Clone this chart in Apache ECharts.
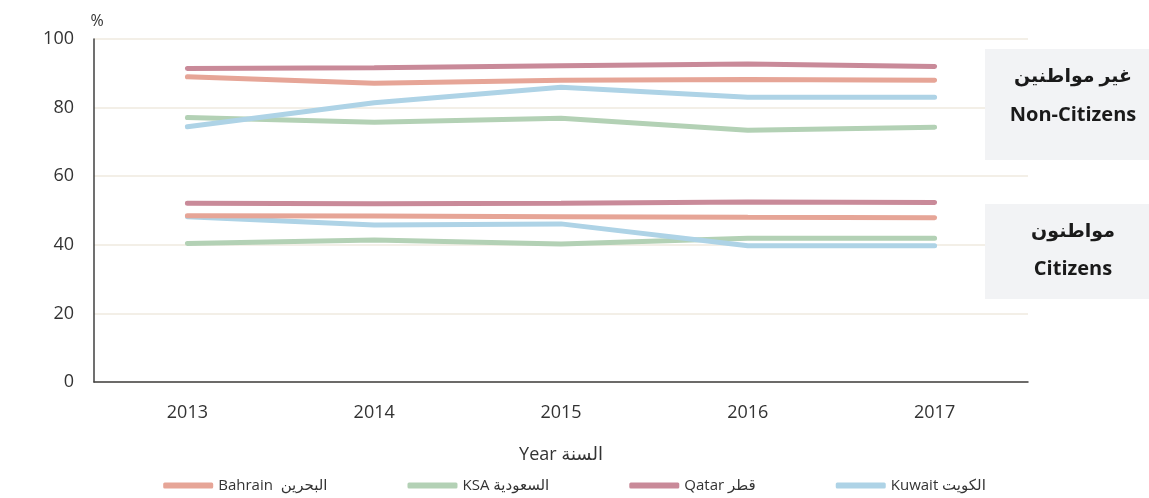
<!DOCTYPE html>
<html>
<head>
<meta charset="utf-8">
<style>
  html, body { margin: 0; padding: 0; background: #fff; }
  #chart { width: 1149px; height: 498px; }
</style>
</head>
<body>
<div id="chart"></div>
<script src="https://cdn.jsdelivr.net/npm/echarts@6/dist/echarts.min.js"></script>
<script>
// السنوات
var years = ['2013', '2014', '2015', '2016', '2017'];
var yTicks = [0, 20, 40, 60, 80, 100];

// غير مواطنين Non-Citizens
var bahrainNon = [89.0, 87.1, 88.0, 88.2, 88.0];
var ksaNon     = [77.1, 75.7, 76.9, 73.4, 74.3];
var qatarNon   = [91.4, 91.6, 92.2, 92.7, 92.0];
var kuwaitNon  = [74.4, 81.4, 85.9, 83.0, 83.0];

// مواطنون Citizens
var bahrainCit = [48.5, 48.4, 48.2, 48.0, 47.9];
var ksaCit     = [40.4, 41.4, 40.2, 41.9, 41.9];
var qatarCit   = [52.1, 52.0, 52.1, 52.5, 52.3];
var kuwaitCit  = [48.2, 45.8, 46.1, 39.7, 39.7];

var names = ['Bahrain  البحرين', 'KSA السعودية', 'Qatar قطر', 'Kuwait الكويت'];
var colors = ['#e6a597', '#b3d1b5', '#c98a99', '#aed3e6'];

var font = '"Open Sans", "Noto Sans", "DejaVu Sans", sans-serif';

function line(name, color, data) {
  return {
    name: name,
    type: 'line',
    data: data,
    symbol: 'none',
    lineStyle: { color: color, width: 5, cap: 'round' },
    itemStyle: { color: color },
    z: 3
  };
}

var series = [];
var nonArr = [bahrainNon, ksaNon, qatarNon, kuwaitNon];
var citArr = [bahrainCit, ksaCit, qatarCit, kuwaitCit];
// draw order: KSA, Kuwait, Bahrain, Qatar
[1, 3, 0, 2].forEach(function (i) {
  series.push(line(names[i], colors[i], nonArr[i]));
  series.push(line(names[i], colors[i], citArr[i]));
});

var chart = echarts.init(document.getElementById('chart'));
chart.setOption({
  animation: false,
  textStyle: { fontFamily: font },
  grid: { left: 94, right: 121, top: 39, bottom: 116, containLabel: false },
  legend: {
    data: names.map(function (n, i) {
      return { name: n, itemStyle: { color: colors[i] } };
    }),
    bottom: 0,
    left: 'center',
    icon: 'roundRect',
    itemWidth: 50,
    itemHeight: 6,
    itemGap: 80,
    textStyle: { fontFamily: font, fontSize: 15, color: '#333' }
  },
  xAxis: {
    type: 'category',
    data: years,
    boundaryGap: true,
    name: 'Year السنة',
    nameLocation: 'middle',
    nameGap: 64,
    nameTextStyle: { fontFamily: font, fontSize: 18, color: '#333' },
    axisLine: { lineStyle: { color: '#404040', width: 1.5 } },
    axisTick: { show: false },
    axisLabel: { fontFamily: font, fontSize: 18, color: '#333', margin: 22 }
  },
  yAxis: {
    type: 'value',
    min: yTicks[0],
    max: yTicks[yTicks.length - 1],
    interval: 20,
    name: '%',
    nameLocation: 'end',
    nameGap: 10,
    nameTextStyle: { fontFamily: font, fontSize: 16, color: '#333', padding: [0, 0, 0, 6] },
    axisLine: { show: true, lineStyle: { color: '#404040', width: 1.5 } },
    axisTick: { show: false },
    axisLabel: { fontFamily: font, fontSize: 18, color: '#333', margin: 20 },
    splitLine: { lineStyle: { color: '#efeadf', width: 1.5 } }
  },
  series: series,
  graphic: [
    { type: 'rect', shape: { x: 985, y: 49, width: 164, height: 111 }, style: { fill: '#f2f3f5' }, z: 10 },
    { type: 'rect', shape: { x: 985, y: 204, width: 164, height: 95 }, style: { fill: '#f2f3f5' }, z: 10 },
    { type: 'text', x: 1073, y: 77, z: 11, style: { text: 'غير مواطنين', fill: '#1a1a1a', font: 'bold 19px ' + font, align: 'center', verticalAlign: 'middle' } },
    { type: 'text', x: 1073, y: 115, z: 11, style: { text: 'Non-Citizens', fill: '#1a1a1a', font: 'bold 20px ' + font, align: 'center', verticalAlign: 'middle' } },
    { type: 'text', x: 1073, y: 232, z: 11, style: { text: 'مواطنون', fill: '#1a1a1a', font: 'bold 19px ' + font, align: 'center', verticalAlign: 'middle' } },
    { type: 'text', x: 1073, y: 269, z: 11, style: { text: 'Citizens', fill: '#1a1a1a', font: 'bold 20px ' + font, align: 'center', verticalAlign: 'middle' } }
  ]
});
</script>
</body>
</html>
